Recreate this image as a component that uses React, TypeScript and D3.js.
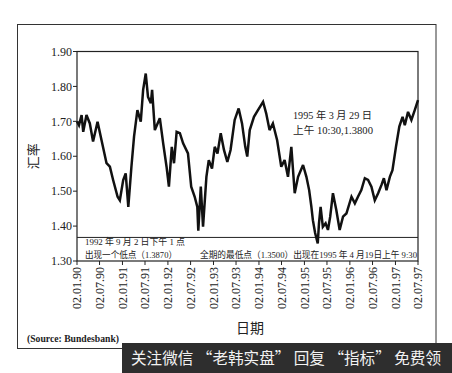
import React from "react";
import * as d3 from "d3";

const W = 452;
const H = 373;

const dates: string[] = [
  "1990-01-02","1990-01-18","1990-02-08","1990-02-21","1990-03-19","1990-04-15","1990-05-11","1990-06-16",
  "1990-07-18","1990-08-27","1990-09-23","1990-10-19","1990-11-24","1990-12-12","1991-01-08","1991-01-28",
  "1991-02-18","1991-03-15","1991-04-05","1991-05-02","1991-05-29","1991-06-17","1991-07-08","1991-07-26",
  "1991-08-18","1991-08-28","1991-09-19","1991-10-29","1991-11-25","1991-12-22","1992-01-10","1992-02-02",
  "1992-02-20","1992-03-12","1992-04-07","1992-05-03","1992-06-11","1992-07-07","1992-08-04","1992-08-25",
  "1992-09-02","1992-09-22","1992-10-10","1992-11-06","1992-11-25","1992-12-21","1993-01-12","1993-02-03",
  "1993-03-01","1993-03-27","1993-04-23","1993-05-19","1993-06-21","1993-07-23","1993-08-19","1993-09-14",
  "1993-09-30","1993-10-20","1993-11-23","1993-12-25","1994-02-04","1994-03-01","1994-03-28","1994-04-24",
  "1994-05-28","1994-06-30","1994-07-27","1994-08-23","1994-09-19","1994-10-16","1994-11-12","1994-12-22",
  "1995-01-18","1995-02-09","1995-02-27","1995-03-11","1995-03-29","1995-04-19","1995-04-29","1995-05-12",
  "1995-05-30","1995-06-21","1995-07-10","1995-07-28","1995-08-19","1995-09-15","1995-10-12","1995-11-08",
  "1995-12-05","1996-01-15","1996-02-11","1996-03-07","1996-04-03","1996-05-01","1996-05-27","1996-06-23",
  "1996-07-20","1996-08-16","1996-09-12","1996-10-01","1996-10-22","1996-11-18","1996-12-09","1997-01-06",
  "1997-02-02","1997-02-28","1997-03-18","1997-04-13","1997-05-10","1997-06-06","1997-07-02"
];

const rates: number[] = [
  1.700,1.689,1.718,1.670,1.718,1.694,1.642,1.699,
  1.646,1.580,1.570,1.532,1.484,1.474,1.532,1.551,
  1.455,1.570,1.656,1.732,1.699,1.790,1.837,1.770,
  1.752,1.790,1.675,1.709,1.637,1.570,1.513,1.627,
  1.580,1.670,1.666,1.637,1.608,1.513,1.484,1.455,
  1.387,1.513,1.398,1.541,1.589,1.565,1.627,1.608,
  1.666,1.618,1.584,1.618,1.704,1.737,1.694,1.627,
  1.599,1.675,1.713,1.732,1.756,1.723,1.675,1.694,
  1.646,1.570,1.589,1.541,1.627,1.494,1.541,1.575,
  1.541,1.503,1.455,1.417,1.380,1.350,1.408,1.455,
  1.398,1.408,1.389,1.427,1.494,1.446,1.389,1.427,
  1.436,1.484,1.465,1.484,1.503,1.537,1.532,1.513,
  1.474,1.494,1.518,1.537,1.503,1.541,1.560,1.627,
  1.685,1.713,1.689,1.727,1.704,1.732,1.761
];

const yTicks: number[] = [1.3, 1.4, 1.5, 1.6, 1.7, 1.8, 1.9];
const xTickDates: string[] = [
  "1990-01-02","1990-07-02","1991-01-02","1991-07-02","1992-01-02","1992-07-02","1993-01-02","1993-07-02",
  "1994-01-02","1994-07-02","1995-01-02","1995-07-02","1996-01-02","1996-07-02","1997-01-02","1997-07-02"
];
const boxLevel = 1.3675;

const serif = "'Liberation Serif', 'DejaVu Serif', serif";
const cjk = "'Liberation Serif', 'Noto Sans CJK SC', serif";

export default function App() {
  const parse = d3.timeParse("%Y-%m-%d");
  const fmt = d3.timeFormat("%d.%m.%y");
  const left = 77, right = 418, top = 51.5, bottom = 261;
  const x = d3.scaleTime().domain([parse("1990-01-02")!, parse("1997-07-02")!]).range([left, right]);
  const y = d3.scaleLinear().domain([1.3, 1.9]).range([bottom, top]);
  const pts = dates.map((d, i) => [x(parse(d)!), y(rates[i])] as [number, number]);
  const path = d3.line()(pts) || "";
  const boxY = y(boxLevel);

  return (
    <svg width={W} height={H} style={{ position: "absolute", left: 0, top: 0, background: "#fff" }}>
      <rect x={0} y={0} width={W} height={H} fill="#fff" />
      <rect x={17.5} y={24.5} width={418.5} height={324} fill="none" stroke="#333" strokeWidth={1} />
      <rect x={left} y={top} width={right - left} height={bottom - top} fill="none" stroke="#222" strokeWidth={1.2} />
      <line x1={left} x2={right} y1={boxY} y2={boxY} stroke="#222" strokeWidth={1} />
      {yTicks.map((t) => (
        <g key={t}>
          <line x1={left - 4} x2={left} y1={y(t)} y2={y(t)} stroke="#222" strokeWidth={1} />
          <text x={left - 5} y={y(t)} dy="0.35em" textAnchor="end" fontFamily={serif} fontSize={12} fill="#222">
            {t.toFixed(2)}
          </text>
        </g>
      ))}
      {xTickDates.map((d) => {
        const xv = x(parse(d)!);
        return (
          <g key={d}>
            <line x1={xv} x2={xv} y1={bottom} y2={bottom + 4} stroke="#222" strokeWidth={1} />
            <text
              transform={`translate(${xv},${bottom + 6}) rotate(-90)`}
              dy="0.35em"
              textAnchor="end"
              fontFamily={serif}
              fontSize={12}
              fill="#222"
            >
              {fmt(parse(d)!)}
            </text>
          </g>
        );
      })}
      <path d={path} fill="none" stroke="#111" strokeWidth={2.5} strokeLinejoin="miter" strokeMiterlimit={3} />
      <text transform={`translate(38,${(top + bottom) / 2}) rotate(-90)`} textAnchor="middle" fontFamily={cjk} fontSize={13} fill="#222">
        汇率
      </text>
      <text x={250} y={333} textAnchor="middle" fontFamily={cjk} fontSize={14} fill="#222">
        日期
      </text>
      <text x={293} y={119} fontFamily={cjk} fontSize={10} fill="#222" textLength={79} lengthAdjust="spacingAndGlyphs">
        1995 年 3 月 29 日
      </text>
      <text x={293} y={134} fontFamily={cjk} fontSize={10} fill="#222" textLength={80} lengthAdjust="spacingAndGlyphs">
        上午 10:30,1.3800
      </text>
      <text x={85} y={245} fontFamily={cjk} fontSize={9} fill="#222" textLength={100} lengthAdjust="spacingAndGlyphs">
        1992 年 9 月 2 日下午 1 点
      </text>
      <text x={85} y={257.5} fontFamily={cjk} fontSize={9} fill="#222" textLength={92} lengthAdjust="spacingAndGlyphs">
        出现一个低点（1.3870）
      </text>
      <text x={200} y={257.5} fontFamily={cjk} fontSize={9} fill="#222" textLength={217} lengthAdjust="spacingAndGlyphs">
        全期的最低点（1.3500）出现在1995 年 4 月19日上午 9:30
      </text>
      <text x={27} y={342} fontFamily={serif} fontSize={9.5} fontWeight="bold" fill="#222" textLength={92} lengthAdjust="spacingAndGlyphs">
        (Source: Bundesbank)
      </text>
      <rect x={122} y={343} width={W - 122} height={H - 343} fill="#2e2e2e" />
      <text x={131} y={364} fontFamily="'Noto Sans CJK SC', sans-serif" fontSize={16} fill="#f2f2f2" textLength={310} lengthAdjust="spacingAndGlyphs">
        关注微信 “老韩实盘” 回复 “指标” 免费领
      </text>
    </svg>
  );
}
